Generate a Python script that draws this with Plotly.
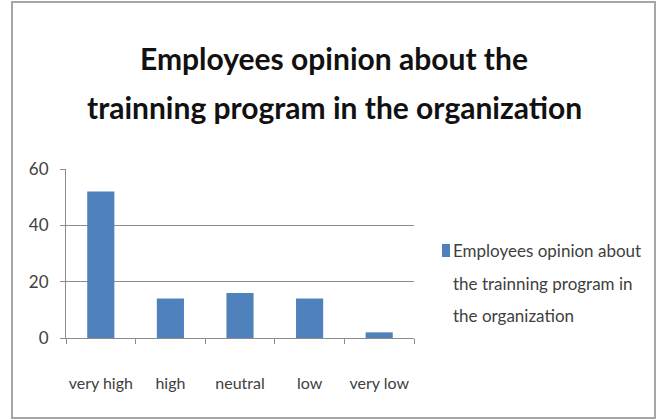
import plotly.graph_objects as go

# Survey responses
categories = ["very high", "high", "neutral", "low", "very low"]
responses = [52, 14, 16, 14, 2]
title_lines = ["Employees opinion about the", "trainning program in the organization"]
legend_lines = ["Employees opinion about", "the trainning program in", "the organization"]
y_ticks = [0, 20, 40, 60]

FONT = "Lato, Noto Sans, sans-serif"
BAR_COLOR = "#4F81BD"
GRID = "#8c8c8c"
TEXT = "#404040"

W, H = 659, 420
L, R, T, B = 66, 245, 169, 82
pw, ph = W - L - R, H - T - B


def px_x(x):
    return (x - L) / pw


def px_y(y):
    return (H - B - y) / ph


fig = go.Figure(
    go.Bar(
        x=categories,
        y=responses,
        name=" ".join(legend_lines),
        marker=dict(color=BAR_COLOR, line=dict(width=0)),
        showlegend=False,
    )
)

annotations = []
# two-line chart title
for text, yc in zip(title_lines, [58, 107]):
    annotations.append(dict(
        text=text, xref="paper", yref="paper", x=px_x(334), y=px_y(yc),
        xanchor="center", yanchor="middle", showarrow=False,
        font=dict(family=FONT, size=30, color="#111111", weight="bold"),
    ))
# legend entry text, wrapped over three lines
for text, yc in zip(legend_lines, [250, 283, 315]):
    annotations.append(dict(
        text=text, xref="paper", yref="paper", x=px_x(451), y=px_y(yc),
        xanchor="left", yanchor="middle", showarrow=False,
        font=dict(family=FONT, size=17, color=TEXT),
    ))

fig.update_layout(
    width=W,
    height=H,
    margin=dict(l=L, r=R, t=T, b=B, autoexpand=False),
    paper_bgcolor="white",
    plot_bgcolor="white",
    bargap=0.61,
    font=dict(family=FONT, color=TEXT, size=16),
    annotations=annotations,
    xaxis=dict(
        showline=True,
        linecolor=GRID,
        linewidth=1,
        ticks="outside",
        tickson="boundaries",
        ticklen=5,
        tickcolor=GRID,
        showgrid=False,
        tickangle=0,
        automargin=False,
        ticklabelstandoff=31,
        tickfont=dict(size=16, color=TEXT),
    ),
    yaxis=dict(
        range=[0, 60],
        tickvals=y_ticks,
        showline=True,
        linecolor=GRID,
        linewidth=1,
        ticks="outside",
        ticklen=5,
        tickcolor=GRID,
        showgrid=True,
        gridcolor=GRID,
        gridwidth=1,
        zeroline=False,
        automargin=False,
        ticklabelstandoff=8,
        tickfont=dict(size=17, color=TEXT),
    ),
    shapes=[
        # outer chart frame
        dict(
            type="rect", xref="paper", yref="paper",
            x0=px_x(12), x1=px_x(655), y0=px_y(418), y1=px_y(2),
            line=dict(color="#a6a6a6", width=2),
            fillcolor="rgba(0,0,0,0)", layer="below",
        ),
        # legend swatch
        dict(
            type="rect", xref="paper", yref="paper",
            x0=px_x(442), x1=px_x(450), y0=px_y(257), y1=px_y(244),
            line=dict(width=0), fillcolor=BAR_COLOR,
        ),
    ],
)

fig.write_html("out.html")
